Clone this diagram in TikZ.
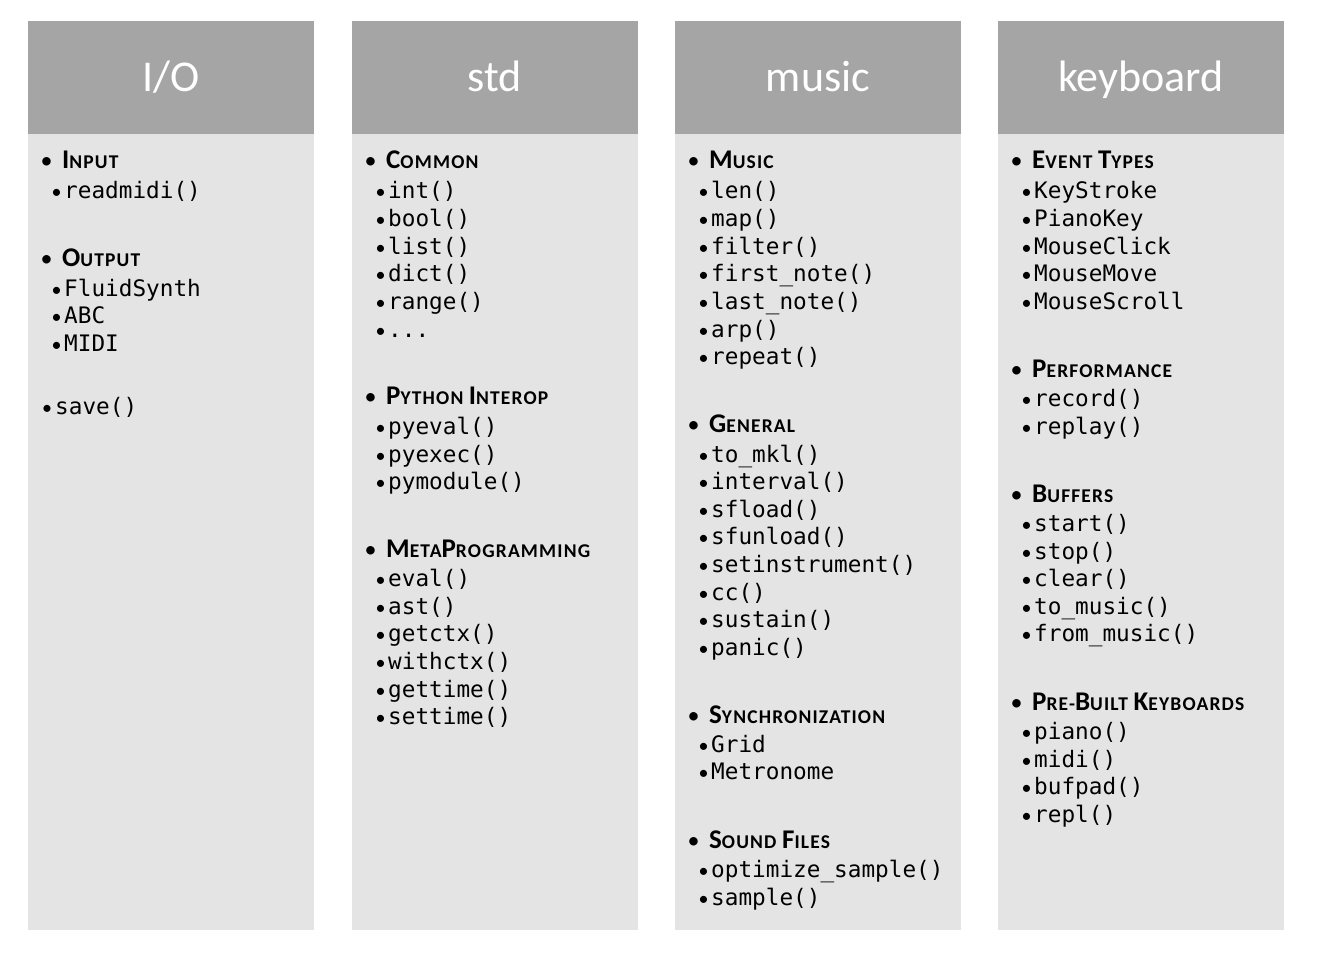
\documentclass[tikz,border=0pt]{standalone}
\usepackage{fontspec}
\setmainfont{Carlito}
\newfontfamily\monof{DejaVu Sans Mono}
\newfontfamily\secf{Carlito}[LetterSpace=6]
\definecolor{hdrgray}{RGB}{165,165,165}
\definecolor{bodygray}{RGB}{228,228,228}
\newcommand\Lg[1]{{\fontsize{27}{27}\selectfont #1}}
\newcommand\us{\char"5F\relax}
\newcommand\Sec[4]{%
  \node[secbul] (#1-b) at ({#2+18.5},{#3+0.5}) {\textbullet};
  \node[sec] (#1) at ({#2+34},{#3+0.5}) {#4};}
\newcommand\Itm[4]{%
  \node[itmbul] (#1-b) at ({#2+28.5},{#3+2}) {\textbullet};
  \node[itm] (#1) at ({#2+36},{#3+2}) {#4};}
\newcommand\Col[3]{%
  \node[hdr] (#1-h) at (#2,21) {};
  \node[bdy] (#1-body) at (#2,134) {};
  \node[ttl] (#1-t) at ({#2+143},92) {#3};}
\tikzset{
  hdr/.style={fill=hdrgray, draw=none, anchor=north west, minimum width=286pt, minimum height=113pt, inner sep=0},
  bdy/.style={fill=bodygray, draw=none, anchor=north west, minimum width=286pt, minimum height=796pt, inner sep=0},
  ttl/.style={anchor=base, text=white, inner sep=0, font=\fontsize{44}{44}\selectfont},
  sec/.style={anchor=base west, inner sep=0, font=\secf\bfseries\fontsize{19.5}{19.5}\selectfont},
  secbul/.style={anchor=base, inner sep=0, font=\fontsize{24}{24}\selectfont},
  itm/.style={anchor=base west, inner sep=0, font=\monof\fontsize{22.7}{22.7}\selectfont},
  itmbul/.style={anchor=base, inner sep=0, font=\fontsize{20}{20}\selectfont},
}
\begin{document}
\begin{tikzpicture}[x=1pt,y=-1pt]
\useasboundingbox[fill=white] (0,0) rectangle (1321,955);
\Col{c1}{28}{I/O}
\Col{c2}{352}{std}
\Col{c3}{675}{music}
\Col{c4}{998}{keyboard}
% column 1
\Sec{s11}{28}{168}{\Lg{I}NPUT}
\Itm{i111}{28}{196.5}{readmidi()}
\Sec{s12}{28}{265.5}{\Lg{O}UTPUT}
\Itm{i121}{28}{294.5}{FluidSynth}
\Itm{i122}{28}{321.5}{ABC}
\Itm{i123}{28}{349.5}{MIDI}
\node[itmbul] (save-b) at (47,414) {\textbullet};
\node[itm] (save) at (55,414) {save()};
% column 2
\Sec{s21}{352}{168}{\Lg{C}OMMON}
\Itm{i211}{352}{196.5}{int()}
\Itm{i212}{352}{224.5}{bool()}
\Itm{i213}{352}{252.5}{list()}
\Itm{i214}{352}{279.5}{dict()}
\Itm{i215}{352}{307.5}{range()}
\Itm{i216}{352}{335.5}{...}
\Sec{s22}{352}{403.5}{\Lg{P}YTHON \Lg{I}NTEROP}
\Itm{i221}{352}{432.5}{pyeval()}
\Itm{i222}{352}{460.5}{pyexec()}
\Itm{i223}{352}{487.5}{pymodule()}
\Sec{s23}{352}{556.5}{\Lg{M}ETA\Lg{P}ROGRAMMING}
\Itm{i231}{352}{584.5}{eval()}
\Itm{i232}{352}{612.5}{ast()}
\Itm{i233}{352}{639.5}{getctx()}
\Itm{i234}{352}{667.5}{withctx()}
\Itm{i235}{352}{695.5}{gettime()}
\Itm{i236}{352}{722.5}{settime()}
% column 3
\Sec{s31}{675}{168}{\Lg{M}USIC}
\Itm{i311}{675}{196.5}{len()}
\Itm{i312}{675}{224.5}{map()}
\Itm{i313}{675}{252.5}{filter()}
\Itm{i314}{675}{279.5}{first\us note()}
\Itm{i315}{675}{307.5}{last\us note()}
\Itm{i316}{675}{335.5}{arp()}
\Itm{i317}{675}{362.5}{repeat()}
\Sec{s32}{675}{431.5}{\Lg{G}ENERAL}
\Itm{i321}{675}{460.5}{to\us mkl()}
\Itm{i322}{675}{487.5}{interval()}
\Itm{i323}{675}{515.5}{sfload()}
\Itm{i324}{675}{542.5}{sfunload()}
\Itm{i325}{675}{570.5}{setinstrument()}
\Itm{i326}{675}{598.5}{cc()}
\Itm{i327}{675}{625.5}{sustain()}
\Itm{i328}{675}{653.5}{panic()}
\Sec{s33}{675}{722.5}{\Lg{S}YNCHRONIZATION}
\Itm{i331}{675}{750.5}{Grid}
\Itm{i332}{675}{777.5}{Metronome}
\Sec{s34}{675}{847.5}{\Lg{S}OUND \Lg{F}ILES}
\Itm{i341}{675}{875.5}{optimize\us sample()}
\Itm{i342}{675}{903.5}{sample()}
% column 4
\Sec{s41}{998}{168}{\Lg{E}VENT \Lg{T}YPES}
\Itm{i411}{998}{196.5}{KeyStroke}
\Itm{i412}{998}{224.5}{PianoKey}
\Itm{i413}{998}{252.5}{MouseClick}
\Itm{i414}{998}{279.5}{MouseMove}
\Itm{i415}{998}{307.5}{MouseScroll}
\Sec{s42}{998}{376.5}{\Lg{P}ERFORMANCE}
\Itm{i421}{998}{404.5}{record()}
\Itm{i422}{998}{432.5}{replay()}
\Sec{s43}{998}{501.5}{\Lg{B}UFFERS}
\Itm{i431}{998}{529.5}{start()}
\Itm{i432}{998}{557.5}{stop()}
\Itm{i433}{998}{584.5}{clear()}
\Itm{i434}{998}{612.5}{to\us music()}
\Itm{i435}{998}{639.5}{from\us music()}
\Sec{s44}{998}{709.5}{\Lg{P}RE-\Lg{B}UILT \Lg{K}EYBOARDS}
\Itm{i441}{998}{737.5}{piano()}
\Itm{i442}{998}{765.5}{midi()}
\Itm{i443}{998}{792.5}{bufpad()}
\Itm{i444}{998}{820.5}{repl()}
\end{tikzpicture}
\end{document}
